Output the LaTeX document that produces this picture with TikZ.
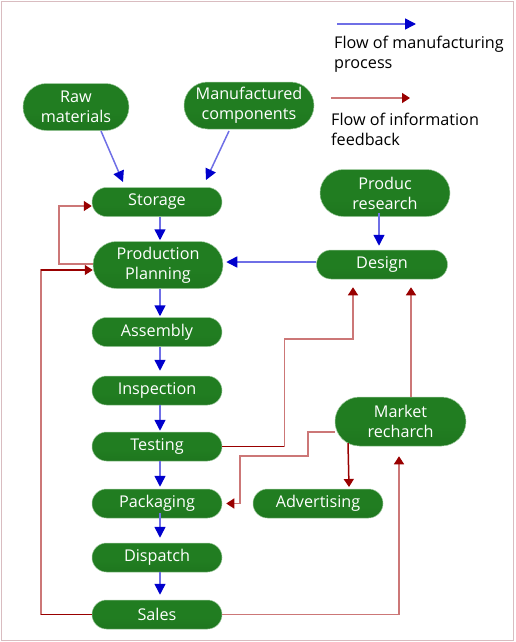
\documentclass[tikz,border=0pt]{standalone}
\usepackage{fontspec}
\setmainfont{Open Sans}
\usetikzlibrary{arrows.meta,calc}
\definecolor{gtop}{HTML}{E2F0E2}
\definecolor{ghi}{HTML}{4E9A4E}
\definecolor{gmid}{HTML}{217D21}
\definecolor{gbot}{HTML}{1B6E1B}
\definecolor{gedge}{HTML}{9CC99C}
\definecolor{bshaft}{HTML}{6F6FE6}
\definecolor{bhead}{HTML}{0000CC}
\definecolor{rshaft}{HTML}{CC7777}
\definecolor{rdark}{HTML}{990000}
\definecolor{frame}{HTML}{D9BCC0}
\pgfdeclareverticalshading{pillshade}{100bp}{color(0bp)=(gbot); color(45bp)=(gmid); color(75bp)=(gmid); color(88bp)=(ghi); color(100bp)=(gtop)}
\begin{document}
\begin{tikzpicture}[x=1pt,y=-1pt,
  pill/.style={rectangle, rounded corners=14.5pt, minimum width=130pt, minimum height=29pt,
    inner sep=0pt, shading=pillshade, draw=gedge, line width=0.5pt, text=white,
    font=\fontsize{16.2}{20}\selectfont, align=center},
  tallpill/.style={pill, rounded corners=23.5pt, minimum height=47pt},
  blueflow/.style={draw=bshaft, line width=1.5pt, -{Triangle[length=11pt,width=11pt,color=bhead]}},
  redflow/.style={draw=rshaft, line width=1.5pt, -{Triangle[length=8pt,width=10pt,color=rdark]}},
  legendtext/.style={anchor=west, inner sep=0pt, align=left, font=\fontsize{16.2}{20}\selectfont}
]
\useasboundingbox (0,0) rectangle (515,642);
\draw[frame, line width=1.5pt] (1.5,1.5) rectangle (513.5,640.5);

% nodes
\node[tallpill, minimum width=106pt] (raw) at (76,107) {Raw\\materials};
\node[tallpill] (manu) at (249,105.5) {Manufactured\\components};
\node[pill] (storage) at (157,202) {Storage};
\node[tallpill] (pp) at (158,265) {Production\\Planning};
\node[tallpill] (research) at (385,193) {Produc\\research};
\node[pill, minimum width=131pt] (design) at (382,264.5) {Design};
\node[pill] (assembly) at (157,332) {Assembly};
\node[pill] (inspection) at (157,390.5) {Inspection};
\node[pill] (testing) at (157,446.5) {Testing};
\node[pill] (packaging) at (157,503.5) {Packaging};
\node[pill] (dispatch) at (157,557.5) {Dispatch};
\node[pill] (sales) at (157,614.5) {Sales};
\node[pill] (advertising) at (318,503.5) {Advertising};
\node[tallpill, minimum width=131pt, minimum height=49pt, rounded corners=24.5pt] (market) at (400.5,421.5) {Market\\recharch};

% legend
\coordinate (lb1) at (337,24);
\coordinate (lb2) at (416,24);
\coordinate (lr1) at (331,98);
\coordinate (lr2) at (410,98);
\draw[blueflow] (lb1) -- (lb2);
\draw[redflow] (lr1) -- (lr2);
\node[legendtext] (lt1) at (334,54) {Flow of manufacturing\\process};
\node[legendtext] (lt2) at (331,129) {Flow of information\\feedback};

% manufacturing flow
\draw[blueflow] ($(raw.center)+(25,24)$) -- ($(storage.center)+(-34,-20)$);
\draw[blueflow] ($(manu.center)+(-20,25.5)$) -- ($(storage.center)+(49,-22)$);
\draw[blueflow] ($(storage.south)+(3,0)$) -- ($(pp.north)+(2,-1)$);
\draw[blueflow] ($(research.center)+(-6,20)$) -- ($(design.north)+(-3,-4)$);
\draw[blueflow] ($(design.west)+(0,-2.5)$) -- ($(pp.east)+(3,-3)$);
\draw[blueflow] ($(pp.south)+(2,0)$) -- ($(assembly.north)+(3,-1)$);
\draw[blueflow] ($(assembly.south)+(3,0)$) -- ($(inspection.north)+(3,-5)$);
\draw[blueflow] ($(inspection.south)+(3,0)$) -- ($(testing.north)+(3,-1)$);
\draw[blueflow] ($(testing.south)+(3,0)$) -- ($(packaging.north)+(3,-2)$);
\draw[blueflow] ($(packaging.south)+(3,-5)$) -- ($(dispatch.north)+(3,-5)$);
\draw[blueflow] ($(dispatch.south)+(3,0)$) -- ($(sales.north)+(3,-5)$);

% information feedback
\draw[redflow] ($(pp.west)+(0,-1)$) -- ++(-34,0) |- ($(storage.west)+(0,4)$);
\draw[redflow] (sales.west) -- ++(-51,0) |- ($(pp.west)+(0,5)$);
\draw[rdark, line width=1.5pt] (sales.west) -- ++(-51,0);
\draw[rdark, line width=1.5pt] ($(pp.west)+(-52,5)$) -- ($(pp.west)+(-8,5)$);
\draw[redflow] (testing.east) -- ++(62,0) -- ++(0,-107.5) -| ($(design.south)+(-29,8)$);
\draw[rdark, line width=1.5pt] (testing.east) -- ++(62,0);
\draw[redflow] ($(market.north)+(10.5,0)$) -- ($(design.south)+(29,8)$);
\draw[redflow] ($(market.west)+(0,10.5)$) -- ++(-27,0) -- ++(0,24) -- ++(-68,0) |- ($(packaging.east)+(4,0)$);
\draw[redflow, draw=rdark] ($(market.center)+(-52.5,21.5)$) -- ($(advertising.center)+(31,-16.5)$);
\draw[redflow] (sales.east) -| ($(market.south)+(-1.5,10)$);
\end{tikzpicture}
\end{document}
